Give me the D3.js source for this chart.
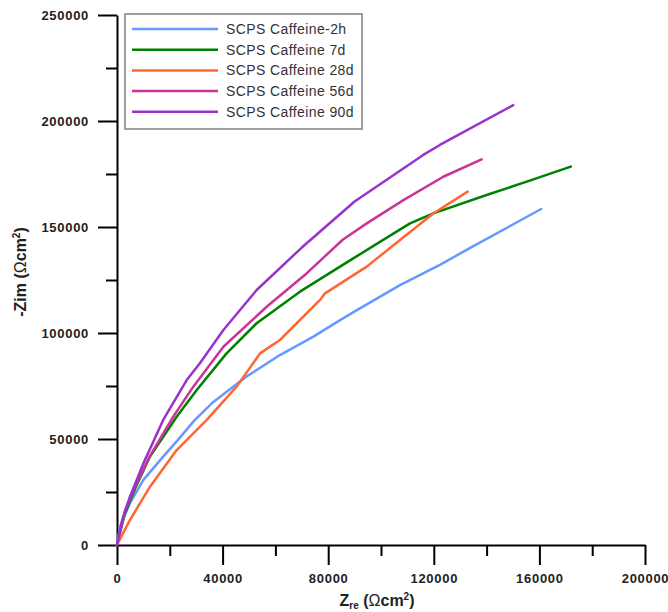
<!DOCTYPE html>
<html>
<head>
<meta charset="utf-8">
<script src="https://cdn.jsdelivr.net/npm/d3@7"></script>
<style>
  body { margin: 0; background: #fff; }
  svg { display: block; font-family: Arial, "Liberation Sans", sans-serif; }
</style>
</head>
<body>
<svg id="chart" width="668" height="612"></svg>
<script>
// ---- data (Zre, -Zim) in Ω·cm² ----
const seriesNames = ["SCPS Caffeine-2h", "SCPS Caffeine 7d", "SCPS Caffeine 28d", "SCPS Caffeine 56d", "SCPS Caffeine 90d"];
const seriesColors = ["#6699FF", "#008000", "#FF6633", "#CC3399", "#9933CC"];

const caffeine2h = [[0,0],[1100,8600],[4900,19700],[10000,30700],[17500,41700],[23000,49500],[29500,59000],[36500,67500],[44000,74700],[49100,79500],[61700,89600],[74400,98300],[84500,106100],[92000,111600],[107200,122600],[122300,132100],[132400,139200],[160700,158500]];
const caffeine7d = [[0,0],[3000,15000],[7000,27000],[12500,41700],[22600,60500],[30200,73100],[41500,90400],[52900,104600],[69300,119500],[89500,135200],[105900,147800],[111000,151700],[119800,156400],[140000,165100],[155200,171400],[171900,178500]];
const caffeine28d = [[0,0],[4900,11800],[12500,27500],[22600,44800],[34000,59000],[45300,74700],[54200,90400],[61700,96700],[76900,115600],[78800,118700],[94600,131300],[107200,143900],[119800,156400],[132800,166700]];
const caffeine56d = [[0,0],[3000,16000],[7000,28000],[12500,42000],[21300,60500],[28900,74700],[40300,93500],[56700,112400],[71800,128100],[85500,144000],[94600,151700],[108500,162700],[123600,173700],[138100,181900]];
const caffeine90d = [[0,0],[2000,12000],[4900,22800],[10000,38500],[17500,59000],[26400,77800],[31400,85700],[40300,101400],[52900,120300],[70000,140300],[90000,162000],[116000,184000],[122300,188700],[150100,207500]];
const seriesData = [caffeine2h, caffeine7d, caffeine28d, caffeine56d, caffeine90d];

const xTicks = [0, 40000, 80000, 120000, 160000, 200000];
const xMinor = [20000, 60000, 100000, 140000, 180000];
const yTicks = [0, 50000, 100000, 150000, 200000, 250000];
const yMinor = [25000, 75000, 125000, 175000, 225000];

// ---- layout ----
const svg = d3.select("#chart");
const x = d3.scaleLinear().domain([0, 200000]).range([117, 645]);
const y = d3.scaleLinear().domain([0, 250000]).range([545, 15]);

const tickFont = g => g.selectAll("text")
  .attr("font-size", 13).attr("font-weight", "bold").attr("fill", "#222")
  .attr("font-family", "Arial, 'Liberation Sans', sans-serif")
  .style("letter-spacing", "0.7px");

// minor ticks
svg.append("g").attr("transform", `translate(0,${y(0)})`)
  .call(d3.axisBottom(x).tickValues(xMinor).tickSize(11).tickFormat(""))
  .call(g => g.select(".domain").remove())
  .call(g => g.selectAll("line").attr("stroke", "#000").attr("stroke-width", 2));
svg.append("g").attr("transform", `translate(${x(0)},0)`)
  .call(d3.axisLeft(y).tickValues(yMinor).tickSize(11).tickFormat(""))
  .call(g => g.select(".domain").remove())
  .call(g => g.selectAll("line").attr("stroke", "#000").attr("stroke-width", 2));

// major axes
svg.append("g").attr("transform", `translate(0,${y(0)})`)
  .call(d3.axisBottom(x).tickValues(xTicks).tickSize(20).tickSizeOuter(0).tickPadding(9).tickFormat(d3.format("d")))
  .call(g => g.select(".domain").attr("stroke", "#000").attr("stroke-width", 2))
  .call(g => g.selectAll("line").attr("stroke", "#000").attr("stroke-width", 2))
  .call(tickFont);
svg.append("g").attr("transform", `translate(${x(0)},0)`)
  .call(d3.axisLeft(y).tickValues(yTicks).tickSize(19).tickSizeOuter(0).tickPadding(9).tickFormat(d3.format("d")))
  .call(g => g.select(".domain").attr("stroke", "#000").attr("stroke-width", 2))
  .call(g => g.selectAll("line").attr("stroke", "#000").attr("stroke-width", 2))
  .call(tickFont);

// ---- lines ----
const line = d3.line().x(d => x(d[0])).y(d => y(d[1]));
svg.append("g").selectAll("path").data(seriesData).join("path")
  .attr("d", line).attr("fill", "none")
  .attr("stroke", (d, i) => seriesColors[i])
  .attr("stroke-width", 2.5).attr("stroke-linejoin", "round").attr("stroke-linecap", "round");

// ---- legend ----
const lg = svg.append("g");
lg.append("rect").attr("x", 125).attr("y", 14).attr("width", 237).attr("height", 115)
  .attr("fill", "#fff").attr("stroke", "#808080").attr("stroke-width", 1.5);
const rows = lg.selectAll("g.row").data(seriesNames).join("g").attr("class", "row")
  .attr("transform", (d, i) => `translate(0,${29 + i * 20.7})`);
rows.append("line").attr("x1", 132).attr("x2", 218).attr("y1", 0).attr("y2", 0)
  .attr("stroke", (d, i) => seriesColors[i]).attr("stroke-width", 2.5);
rows.append("text").attr("x", 226).attr("y", 5).attr("font-size", 14).attr("fill", "#333")
  .style("letter-spacing", "0.4px")
  .text(d => d);

// ---- axis titles ----
const xt = svg.append("text").attr("x", 377).attr("y", 606).attr("text-anchor", "middle")
  .attr("font-size", 16).attr("font-weight", "bold").attr("fill", "#222");
xt.append("tspan").text("Z");
xt.append("tspan").attr("font-size", 10).attr("dy", 3).text("re");
xt.append("tspan").attr("dy", -3).text(" (");
xt.append("tspan").attr("font-weight", "normal").text("Ω");
xt.append("tspan").text("cm");
xt.append("tspan").attr("font-size", 10).attr("dy", -6).text("2");
xt.append("tspan").attr("dy", 6).text(")");

const yt = svg.append("text").attr("transform", "translate(26,272) rotate(-90)")
  .attr("text-anchor", "middle").attr("font-size", 16).attr("font-weight", "bold").attr("fill", "#222");
yt.append("tspan").text("-Zim (");
yt.append("tspan").attr("font-weight", "normal").text("Ω");
yt.append("tspan").text("cm");
yt.append("tspan").attr("font-size", 10).attr("dy", -6).text("2");
yt.append("tspan").attr("dy", 6).text(")");
</script>
</body>
</html>
